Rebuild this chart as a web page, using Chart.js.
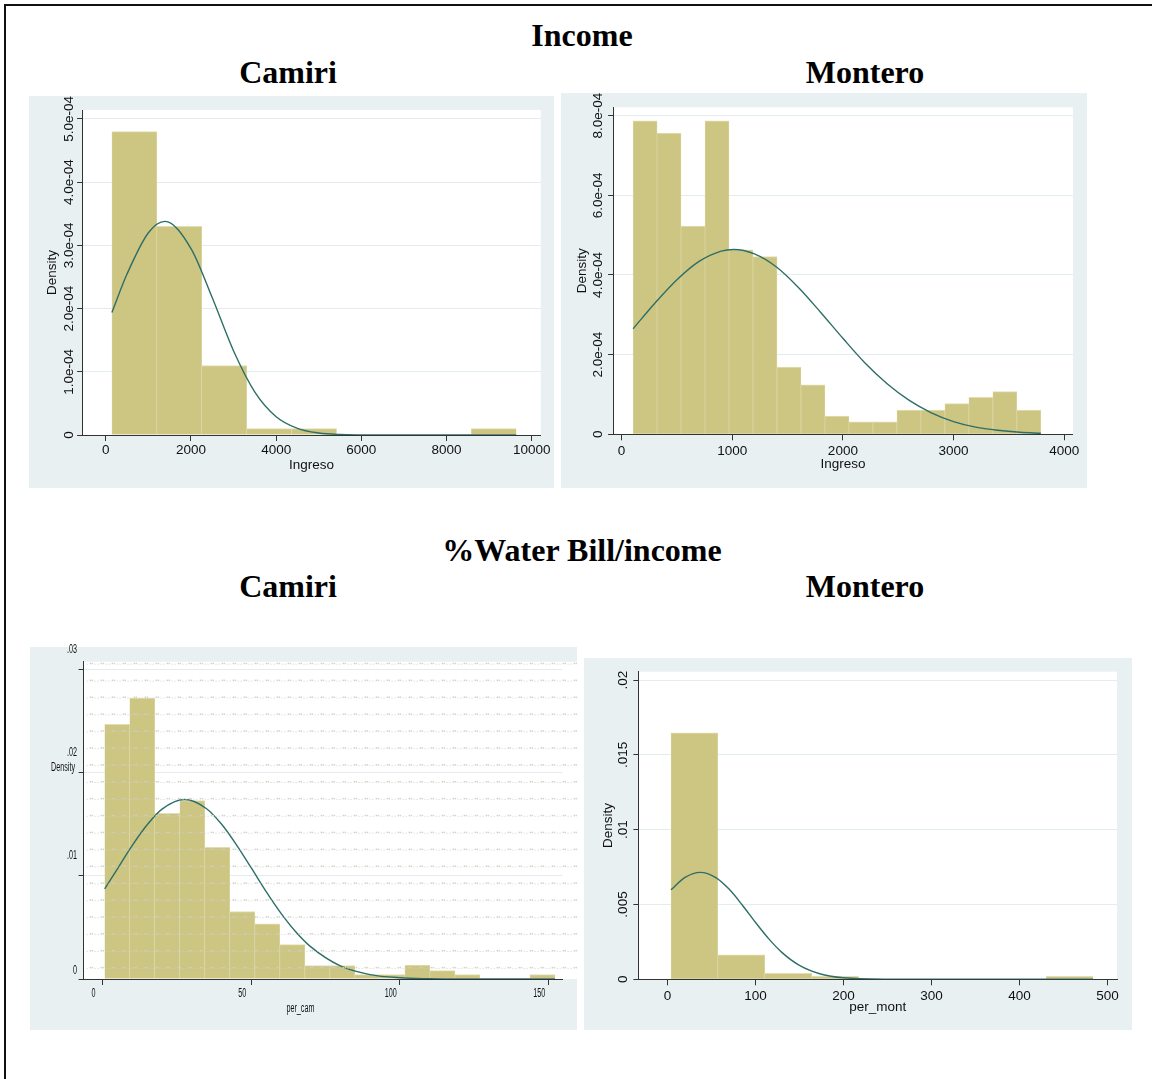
<!DOCTYPE html>
<html>
<head>
<meta charset="utf-8">
<script src="https://cdn.jsdelivr.net/npm/chart.js@4.4.1/dist/chart.umd.min.js"></script>
<style>
  body { margin: 0; width: 1152px; height: 1079px; overflow: hidden; position: relative; background: #fff; }
  .frame { position: absolute; left: 4px; top: 4px; width: 1200px; height: 1200px; border-left: 2px solid #111; border-top: 2px solid #111; }
  .t { position: absolute; font: bold 32px/32px 'Liberation Serif', 'Times New Roman', serif; color: #000; white-space: nowrap; transform: translateX(-50%); }
  canvas { position: absolute; background: #e8f0f2; }
  #camWat { background: linear-gradient(rgba(255,255,255,0) 7px, #e8f0f2 7px); }
</style>
</head>
<body>
<div class="frame"></div>
<div class="t" style="left:582px;top:19px">Income</div>
<div class="t" style="left:288px;top:56px">Camiri</div>
<div class="t" style="left:865px;top:56px">Montero</div>
<div class="t" style="left:582px;top:534px">%Water Bill/income</div>
<div class="t" style="left:288px;top:570px">Camiri</div>
<div class="t" style="left:865px;top:570px">Montero</div>

<canvas id="camInc" width="525" height="392" style="left:29px;top:96px"></canvas>
<canvas id="monInc" width="526" height="395" style="left:561px;top:93px"></canvas>
<canvas id="camWat" width="547" height="390" style="left:30px;top:640px"></canvas>
<canvas id="monWat" width="548" height="372" style="left:584px;top:658px"></canvas>

<script>
// Camiri income (Ingreso): bin midpoints and densities
const camIncBins = [670.5, 1725.5, 2780.5, 3835.5, 4890.5, 5945.5, 7000.5, 8055.5, 9110.5];
const camIncDens = [4.80e-4, 3.30e-4, 1.10e-4, 0.10e-4, 0.10e-4, 0, 0, 0, 0.10e-4];
const camIncCurveX = [143, 500, 1000, 1388, 2000, 2500, 3000, 3500, 4000, 4500, 5000, 5500, 6000, 7000, 8000, 9638];
const camIncCurveY = [1.94e-4, 2.55e-4, 3.20e-4, 3.38e-4, 2.95e-4, 2.17e-4, 1.33e-4, 0.68e-4, 0.29e-4, 0.105e-4, 0.032e-4, 0.008e-4, 0.002e-4, 0, 0, 0];
const camIncXTicks = [0, 2000, 4000, 6000, 8000, 10000];
const camIncYTicks = [0, 1e-4, 2e-4, 3e-4, 4e-4, 5e-4];

// Montero income (Ingreso)
const monIncBins = [212.0, 428.8, 645.6, 862.4, 1079.2, 1296.0, 1512.8, 1729.6, 1946.4, 2163.2, 2380.0, 2596.8, 2813.6, 3030.4, 3247.2, 3464.0, 3680.8];
const monIncDens = [7.87e-4, 7.56e-4, 5.23e-4, 7.87e-4, 4.63e-4, 4.46e-4, 1.69e-4, 1.24e-4, 0.46e-4, 0.31e-4, 0.31e-4, 0.61e-4, 0.61e-4, 0.77e-4, 0.93e-4, 1.07e-4, 0.61e-4];
const monIncCurveX = [104, 300, 500, 700, 900, 1014, 1200, 1400, 1600, 1800, 2000, 2200, 2400, 2600, 2800, 3000, 3200, 3400, 3600, 3789];
const monIncCurveY = [2.65e-4, 3.29e-4, 3.88e-4, 4.34e-4, 4.60e-4, 4.64e-4, 4.53e-4, 4.20e-4, 3.68e-4, 3.06e-4, 2.41e-4, 1.79e-4, 1.27e-4, 0.85e-4, 0.54e-4, 0.32e-4, 0.18e-4, 0.10e-4, 0.05e-4, 0.025e-4];
const monIncXTicks = [0, 1000, 2000, 3000, 4000];
const monIncYTicks = [0, 2e-4, 4e-4, 6e-4, 8e-4];

// Camiri water bill share (per_cam)
const camWatBins = [4.92, 13.34, 21.76, 30.18, 38.60, 47.02, 55.44, 63.86, 72.28, 80.70, 89.12, 97.54, 105.96, 114.38, 122.80, 131.22, 139.64, 148.06];
const camWatDens = [0.02472, 0.02728, 0.01609, 0.01732, 0.01278, 0.00655, 0.00535, 0.00334, 0.0013, 0.0013, 0.00042, 0.00042, 0.00136, 0.00081, 0.00044, 0, 0, 0.00044];
const camWatCurveX = [0.7, 5, 10, 15, 20, 27.6, 35, 40, 45, 50, 55, 60, 65, 70, 80, 90, 100, 110, 120, 152.3];
const camWatCurveY = [0.00874, 0.0107, 0.01297, 0.01497, 0.01649, 0.01742, 0.01653, 0.01504, 0.01305, 0.0108, 0.00851, 0.0064, 0.00459, 0.00314, 0.00127, 0.00043, 0.00012, 0.00003, 0, 0];
const camWatXTicks = [0, 50, 100, 150];
const camWatYTicks = [0, 0.01, 0.02, 0.03];

// Montero water bill share (per_mont)
const monWatBins = [30.65, 83.95, 137.25, 190.55, 243.85, 297.15, 350.45, 403.75, 457.05];
const monWatDens = [0.01648, 0.00163, 0.0004, 0.0002, 0, 0, 0, 0, 0.0002];
const monWatCurveX = [4, 20, 37.4, 55, 70, 85, 100, 115, 130, 150, 175, 200, 250, 300, 400, 483.7];
const monWatCurveY = [0.00598, 0.00681, 0.00715, 0.0068, 0.00603, 0.00497, 0.00381, 0.00272, 0.0018, 0.00093, 0.00034, 0.0001, 0.000005, 0, 0, 0];
const monWatXTicks = [0, 100, 200, 300, 400, 500];
const monWatYTicks = [0, 0.005, 0.01, 0.015, 0.02];

Chart.defaults.font.family = "'Liberation Sans', Arial, sans-serif";
Chart.defaults.color = '#111';

function put(ctx, s, x, y, rot, sx, align) {
  ctx.save();
  ctx.translate(x, y);
  if (rot) ctx.rotate(-Math.PI / 2);
  ctx.scale(sx, 1);
  ctx.textAlign = align;
  ctx.fillText(s, 0, 0);
  ctx.restore();
}

// white plot region, dotted texture, hand placed tick labels
const stata = {
  id: 'stata',
  beforeDraw(chart, args, o) {
    const a = chart.chartArea, ctx = chart.ctx;
    ctx.save();
    ctx.fillStyle = '#fff';
    const r = o.wide ? chart.width : a.right;
    ctx.fillRect(a.left, a.top, r - a.left, a.bottom - a.top);
    ctx.restore();
  },
  afterDatasetsDraw(chart, args, o) {
    if (!o.dots) return;
    const a = chart.chartArea, ctx = chart.ctx;
    ctx.save();
    ctx.fillStyle = 'rgba(208,208,200,0.95)';
    for (let y = a.top + 2; y < a.bottom - 3; y += 16.9) {
      for (let x = a.left + 3; x < chart.width - 3; x += 11) {
        ctx.fillRect(x, y, 1, 1);
        ctx.fillRect(x + 3, y - 1, 1.5, 1.5);
        ctx.fillRect(x + 5, y - 1, 1.5, 1.5);
        ctx.fillRect(x + 8, y, 1, 1);
      }
    }
    ctx.restore();
  },
  afterDraw(chart, args, o) {
    const ctx = chart.ctx, ys = chart.scales.y, xs = chart.scales.x;
    ctx.save();
    ctx.fillStyle = '#111';
    ctx.font = o.font;
    ctx.textBaseline = 'middle';
    ys.ticks.forEach(t => {
      const dy = t.value === 0 ? o.dy0 : o.dy;
      put(ctx, t.label, o.yx, ys.getPixelForValue(t.value) + dy, o.rot, o.sx, o.align);
    });
    if (o.xy) {
      xs.ticks.forEach(t => put(ctx, t.label, xs.getPixelForValue(t.value) + o.dx, o.xy, false, o.sx, 'center'));
    }
    (o.extra || []).forEach(e => put(ctx, e.s, e.x, e.y, false, o.sx, e.a));
    ctx.restore();
  }
};

function hist(id, bx, by, cx, cy, xt, yt, o) {
  return new Chart(document.getElementById(id), {
    type: 'bar',
    data: {
      datasets: [
        {
          type: 'line',
          data: cx.map((x, i) => ({ x: x, y: cy[i] })),
          borderColor: '#2d6e67',
          borderWidth: 1.4,
          pointRadius: 0,
          cubicInterpolationMode: 'monotone',
          order: 1
        },
        {
          type: 'bar',
          data: bx.map((x, i) => ({ x: x, y: by[i] })),
          backgroundColor: '#cdc582',
          borderColor: '#e2deb2',
          borderWidth: { left: 0.6, right: 0.6, top: 1, bottom: 0 },
          barPercentage: 1,
          categoryPercentage: 1,
          order: 2
        }
      ]
    },
    options: {
      responsive: false,
      animation: false,
      events: [],
      devicePixelRatio: 1,
      layout: { padding: o.pad },
      plugins: { legend: { display: false }, tooltip: { enabled: false }, stata: o.stata },
      scales: {
        x: {
          type: 'linear', offset: false, min: o.xmin, max: o.xmax,
          afterBuildTicks: s => { s.ticks = xt.map(v => ({ value: v })); },
          afterFit: s => { s.height = o.xh; },
          grid: { offset: false, drawOnChartArea: false, tickLength: 6, tickColor: '#333' },
          border: { color: '#333' },
          ticks: { display: o.xlab !== false, padding: o.xpad || 0, maxRotation: 0, autoSkip: false,
                   font: { size: 13.5 }, callback: v => String(v) },
          title: { display: !!o.xtitle, text: o.xtitle, font: { size: 13.5 }, padding: { top: 0, bottom: o.xtb || 0 } }
        },
        y: {
          min: 0, max: o.ymax,
          afterBuildTicks: s => { s.ticks = yt.map(v => ({ value: v })); },
          afterFit: s => { s.width = o.yw; },
          grid: { color: '#e3ecef', tickLength: 5, tickColor: '#333' },
          border: { color: '#333' },
          ticks: { display: false, callback: o.yfmt },
          title: { display: !!o.ytitle, text: o.ytitle, font: { size: 13.5 }, padding: { top: 4, bottom: 4 } }
        }
      }
    },
    plugins: [stata]
  });
}

const sci = v => v === 0 ? '0' : v.toExponential(1).replace(/e-(\d)$/, 'e-0$1');
const dec = v => v === 0 ? '0' : v.toFixed(3).replace(/0+$/, '').replace(/^0/, '');

hist('camInc', camIncBins, camIncDens, camIncCurveX, camIncCurveY, camIncXTicks, camIncYTicks, {
  pad: { left: 11.6, top: 14, right: 13.2, bottom: 0 }, yw: 41.5, xh: 53,
  xmin: -557, xmax: 10214, xpad: 1, xtitle: 'Ingreso', xtb: 14.9,
  ymax: 5.142e-4, yfmt: sci, ytitle: 'Density',
  stata: { font: "13.5px 'Liberation Sans'", yx: 40.3, rot: true, sx: 1, align: 'center', dy: 0, dy0: 0 }
});

hist('monInc', monIncBins, monIncDens, monIncCurveX, monIncCurveY, monIncXTicks, monIncYTicks, {
  pad: { left: 9.2, top: 14.3, right: 14.1, bottom: 0 }, yw: 42.9, xh: 53.7,
  xmin: -77, xmax: 4079, xpad: 3, xtitle: 'Ingreso', xtb: 15.2,
  ymax: 8.21e-4, yfmt: sci, ytitle: 'Density',
  stata: { font: "13.5px 'Liberation Sans'", yx: 36.9, rot: true, sx: 1, align: 'center', dy: 0, dy0: 0 }
});

hist('camWat', camWatBins, camWatDens, camWatCurveX, camWatCurveY, camWatXTicks, camWatYTicks, {
  pad: { left: 0, top: 21.7, right: 14.8, bottom: 0 }, yw: 53.6, xh: 51,
  xmin: -6.4, xmax: 154.7, xlab: false,
  ymax: 0.0308, yfmt: dec,
  stata: {
    font: "12px 'Liberation Sans'", yx: 47, rot: false, sx: 0.6, align: 'right', dy: -20, dy0: -8,
    xy: 354, dx: -9, wide: true, dots: true,
    extra: [{ s: 'Density', x: 45, y: 127.7, a: 'right' }, { s: 'per_cam', x: 270.4, y: 368.3, a: 'center' }]
  }
});

hist('monWat', monWatBins, monWatDens, monWatCurveX, monWatCurveY, monWatXTicks, monWatYTicks, {
  pad: { left: 12.2, top: 13.7, right: 15, bottom: 0 }, yw: 42.2, xh: 50.7,
  xmin: -33, xmax: 510.9, xpad: 2.6, xtitle: 'per_mont', xtb: 14.2,
  ymax: 0.02056, yfmt: dec, ytitle: 'Density',
  stata: { font: "13.5px 'Liberation Sans'", yx: 39.2, rot: true, sx: 1, align: 'center', dy: 0, dy0: 0 }
});
</script>
</body>
</html>
